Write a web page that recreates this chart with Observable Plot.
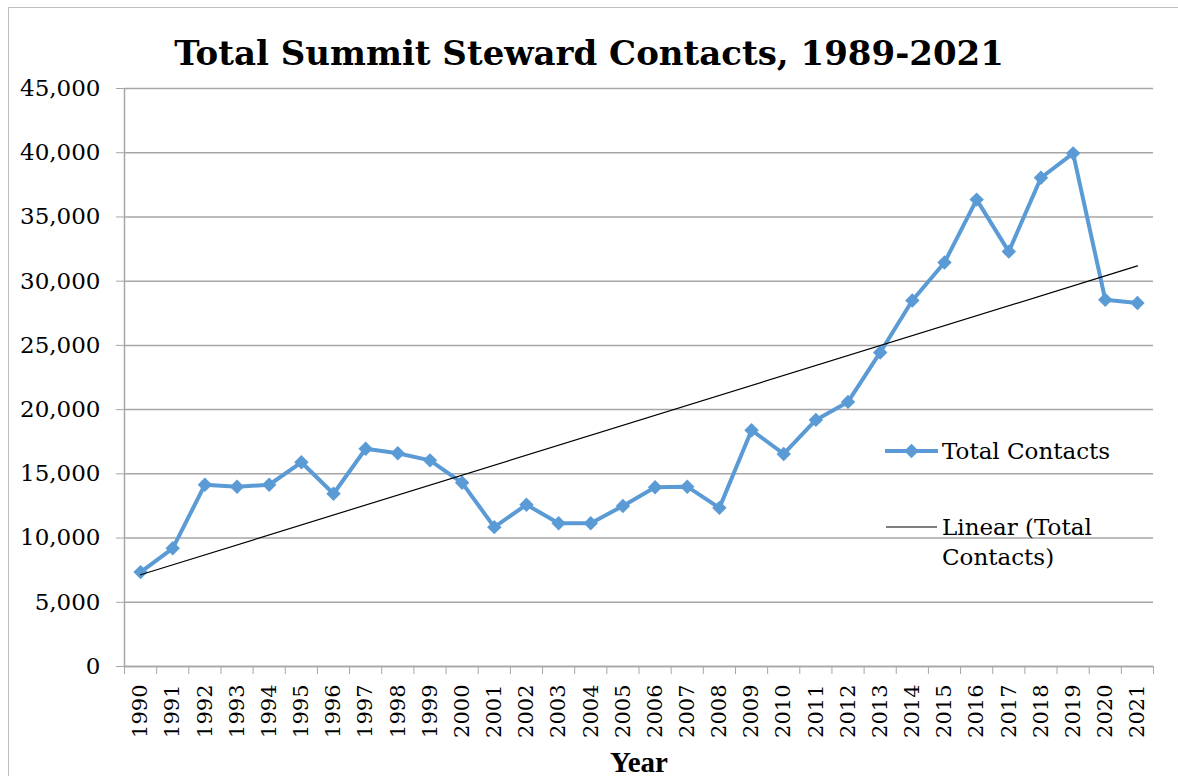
<!DOCTYPE html>
<html>
<head>
<meta charset="utf-8">
<script src="https://cdn.jsdelivr.net/npm/d3@7"></script>
<script src="https://cdn.jsdelivr.net/npm/@observablehq/plot@0.6"></script>
<style>
  html, body { margin: 0; padding: 0; background: white; overflow: hidden; width: 1178px; height: 776px; }
  #frame { position: absolute; left: 8px; top: 7px; width: 1300px; height: 900px; border: 1.5px solid #bfbfbf; box-sizing: border-box; }
  #title { position: absolute; left: 0; top: 0; width: 1178px; height: 70px; text-align: center;
           font-family: "DejaVu Serif", serif; font-weight: bold; font-size: 34px; line-height: 34px; padding-top: 36px; box-sizing: border-box; }
  #chart { position: absolute; left: 0; top: 70px; }
  #legend { position: absolute; left: 880px; top: 425px; }
</style>
</head>
<body>
<div id="frame"></div>
<div id="title">Total Summit Steward Contacts, 1989-2021</div>
<div id="chart"></div>
<svg id="legend" width="298" height="150"></svg>
<script>
const years = [1990, 1991, 1992, 1993, 1994, 1995, 1996, 1997, 1998, 1999, 2000, 2001, 2002, 2003, 2004, 2005,
               2006, 2007, 2008, 2009, 2010, 2011, 2012, 2013, 2014, 2015, 2016, 2017, 2018, 2019, 2020, 2021];
const contacts = [7350, 9200, 14150, 14000, 14150, 15900, 13450, 16950, 16600, 16050, 14300, 10850, 12600, 11150, 11150, 12500,
                  13950, 14000, 12350, 18400, 16550, 19200, 20600, 24450, 28500, 31450, 36350, 32300, 38050, 39950, 28550, 28300];
const yTicks = [0, 5000, 10000, 15000, 20000, 25000, 30000, 35000, 40000, 45000];
const seriesName = "Total Contacts";
const trendName = ["Linear (Total", "Contacts)"];
const xLabel = "Year";

const data = years.map((year, i) => ({year, value: contacts[i]}));
const bounds = years.map(y => y - 0.5).concat([years[years.length - 1] + 0.5]);

const blue = "#5b9bd5";
const grid = "#a6a6a6";
const font = "DejaVu Serif";

const chart = Plot.plot({
  width: 1178,
  height: 706,
  marginTop: 18,
  marginBottom: 110,
  marginLeft: 124,
  marginRight: 25,
  style: {fontFamily: font, fontSize: "21px", color: "black", background: "transparent", overflow: "visible"},
  x: {type: "linear", domain: [bounds[0], bounds[bounds.length - 1]]},
  y: {domain: [0, 45000]},
  marks: [
    Plot.gridY(yTicks, {stroke: grid, strokeOpacity: 1, strokeWidth: 1.5}),
    Plot.ruleX([bounds[0]], {stroke: grid, strokeWidth: 1.5}),
    Plot.ruleY([0], {stroke: grid, strokeWidth: 1.5}),
    Plot.axisY({ticks: yTicks, tickSize: 8, tickPadding: 16, stroke: grid, strokeOpacity: 1, fill: "black",
                tickFormat: d3.format(","), fontSize: 23, fontFamily: font, label: null}),
    Plot.axisX({ticks: bounds, tickSize: 8, stroke: grid, strokeOpacity: 1, tickFormat: () => "", label: null}),
    Plot.axisX({ticks: years, tickSize: 0, tickPadding: 18, tickRotate: -90, fill: "black",
                tickFormat: d => String(d), fontSize: 21, fontFamily: font, label: null}),
    Plot.text([xLabel], {frameAnchor: "bottom", dy: 105, lineAnchor: "bottom", fontWeight: "bold",
                         fontSize: 29, fontFamily: "Liberation Serif", fill: "black"}),
    Plot.line(data, {x: "year", y: "value", stroke: blue, strokeWidth: 4}),
    Plot.dot(data, {x: "year", y: "value", symbol: "diamond2", r: 6.5, fill: blue, stroke: "none"}),
    Plot.linearRegressionY(data, {x: "year", y: "value", ci: 0, stroke: "black", strokeWidth: 1.2})
  ]
});
document.getElementById("chart").appendChild(chart);

// Legend
const lg = d3.select("#legend");
lg.append("line").attr("x1", 5).attr("x2", 58).attr("y1", 26).attr("y2", 26)
  .attr("stroke", blue).attr("stroke-width", 4);
lg.append("path").attr("d", d3.symbol(d3.symbolDiamond2, Math.PI * 6.5 * 6.5)())
  .attr("transform", "translate(31.5,26)").attr("fill", blue);
lg.append("text").attr("x", 62).attr("y", 26).attr("dy", "0.35em")
  .attr("font-family", font).attr("font-size", 23).text(seriesName);
lg.append("line").attr("x1", 6).attr("x2", 57).attr("y1", 102).attr("y2", 102)
  .attr("stroke", "black").attr("stroke-width", 1.2);
trendName.forEach((t, i) => {
  lg.append("text").attr("x", 62).attr("y", 102 + i * 30).attr("dy", "0.35em")
    .attr("font-family", font).attr("font-size", 23).text(t);
});
</script>
</body>
</html>
